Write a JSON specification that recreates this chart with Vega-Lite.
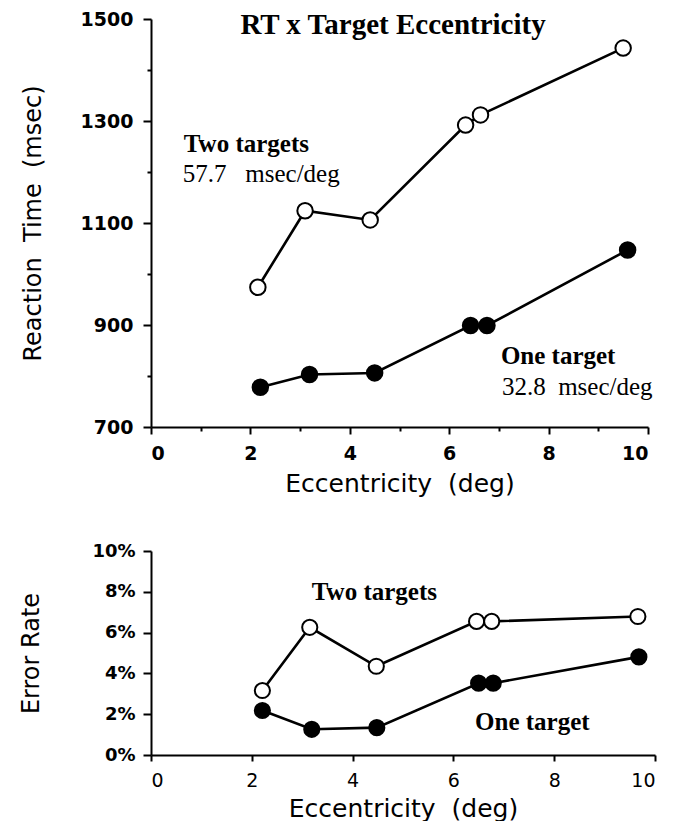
{
  "$schema": "https://vega.github.io/schema/vega-lite/v6.json",
  "background": "white",
  "padding": {"left": 19, "top": 10, "right": 10, "bottom": 0},
  "spacing": 46,
  "config": {
    "view": {"stroke": null},
    "axis": {
      "grid": false,
      "domainColor": "black",
      "domainWidth": 2,
      "tickColor": "black",
      "tickWidth": 2,
      "labelColor": "black",
      "labelFont": "DejaVu Sans",
      "labelFontWeight": "bold",
      "titleColor": "black",
      "titleFont": "DejaVu Sans",
      "titleFontWeight": "normal"
    }
  },
  "datasets": {
    "rt": [
      {"series": "Two targets", "ecc": 2.15, "value": 974},
      {"series": "Two targets", "ecc": 3.10, "value": 1124},
      {"series": "Two targets", "ecc": 4.41, "value": 1106},
      {"series": "Two targets", "ecc": 6.33, "value": 1292},
      {"series": "Two targets", "ecc": 6.63, "value": 1312},
      {"series": "Two targets", "ecc": 9.50, "value": 1443},
      {"series": "One target", "ecc": 2.20, "value": 778},
      {"series": "One target", "ecc": 3.19, "value": 803},
      {"series": "One target", "ecc": 4.50, "value": 806},
      {"series": "One target", "ecc": 6.43, "value": 899},
      {"series": "One target", "ecc": 6.76, "value": 899},
      {"series": "One target", "ecc": 9.59, "value": 1047}
    ],
    "err": [
      {"series": "Two targets", "ecc": 2.21, "value": 3.16},
      {"series": "Two targets", "ecc": 3.15, "value": 6.26},
      {"series": "Two targets", "ecc": 4.47, "value": 4.35},
      {"series": "Two targets", "ecc": 6.46, "value": 6.55},
      {"series": "Two targets", "ecc": 6.76, "value": 6.55},
      {"series": "Two targets", "ecc": 9.66, "value": 6.79},
      {"series": "One target", "ecc": 2.21, "value": 2.18},
      {"series": "One target", "ecc": 3.19, "value": 1.26},
      {"series": "One target", "ecc": 4.48, "value": 1.34},
      {"series": "One target", "ecc": 6.50, "value": 3.52},
      {"series": "One target", "ecc": 6.79, "value": 3.52},
      {"series": "One target", "ecc": 9.68, "value": 4.81}
    ],
    "rtTitle": [{"ecc": 4.87, "value": 1488, "text": "RT x Target Eccentricity"}],
    "rtNames": [
      {"ecc": 0.66, "value": 1255, "text": "Two targets"},
      {"ecc": 7.04, "value": 839, "text": "One target"}
    ],
    "rtSlopes": [
      {"ecc": 0.64, "value": 1196, "text": "57.7\u00a0\u00a0\u00a0msec/deg"},
      {"ecc": 7.06, "value": 778, "text": "32.8\u00a0\u00a0msec/deg"}
    ],
    "errNames": [
      {"ecc": 3.19, "value": 8.0, "text": "Two targets"},
      {"ecc": 6.43, "value": 1.6, "text": "One target"}
    ]
  },
  "vconcat": [
    {
      "width": 497,
      "height": 408,
      "encoding": {
        "x": {
          "field": "ecc", "type": "quantitative",
          "scale": {"domain": [0, 10], "nice": false},
          "title": "Eccentricity\u00a0\u00a0(deg)",
          "axis": {
            "values": [0, 1, 2, 3, 4, 5, 6, 7, 8, 9, 10],
            "labelExpr": "datum.value % 2 === 0 ? datum.label : ''",
            "tickSize": {"condition": {"test": "datum.value % 2 === 0", "value": 7}, "value": 4},
            "labelFontSize": 19,
            "labelPadding": 10,
            "titleFontSize": 25,
            "titlePadding": 8
          }
        },
        "y": {
          "field": "value", "type": "quantitative",
          "scale": {"domain": [700, 1500], "nice": false},
          "title": "Reaction\u00a0\u00a0Time\u00a0\u00a0(msec)",
          "axis": {
            "values": [700, 800, 900, 1000, 1100, 1200, 1300, 1400, 1500],
            "format": "d",
            "labelExpr": "datum.value % 200 === 100 ? datum.label : ''",
            "tickSize": {"condition": {"test": "datum.value % 200 === 100", "value": 8}, "value": 4},
            "labelFontSize": 19,
            "labelPadding": 10,
            "titleFontSize": 24,
            "titlePadding": 35
          }
        }
      },
      "layer": [
        {
          "data": {"name": "rt"},
          "mark": {"type": "line", "color": "black", "strokeWidth": 2.6},
          "encoding": {"detail": {"field": "series"}}
        },
        {
          "data": {"name": "rt"},
          "mark": {"type": "circle", "size": 240, "stroke": "black", "strokeWidth": 2, "opacity": 1},
          "encoding": {
            "fill": {
              "field": "series", "type": "nominal",
              "scale": {"domain": ["One target", "Two targets"], "range": ["black", "white"]},
              "legend": null
            }
          }
        },
        {
          "data": {"name": "rtTitle"},
          "mark": {"type": "text", "font": "Liberation Serif", "fontSize": 29, "fontWeight": "bold", "align": "center", "baseline": "middle", "color": "black"},
          "encoding": {"text": {"field": "text"}}
        },
        {
          "data": {"name": "rtNames"},
          "mark": {"type": "text", "font": "Liberation Serif", "fontSize": 25, "fontWeight": "bold", "align": "left", "baseline": "middle", "color": "black"},
          "encoding": {"text": {"field": "text"}}
        },
        {
          "data": {"name": "rtSlopes"},
          "mark": {"type": "text", "font": "Liberation Serif", "fontSize": 25, "align": "left", "baseline": "middle", "color": "black"},
          "encoding": {"text": {"field": "text"}}
        }
      ]
    },
    {
      "width": 504,
      "height": 204,
      "encoding": {
        "x": {
          "field": "ecc", "type": "quantitative",
          "scale": {"domain": [0, 10], "nice": false},
          "title": "Eccentricity\u00a0\u00a0(deg)",
          "axis": {
            "values": [0, 2, 4, 6, 8, 10],
            "tickSize": 6,
            "labelFontSize": 19,
            "labelFontWeight": "normal",
            "labelPadding": 10,
            "titleFontSize": 25,
            "titlePadding": 6
          }
        },
        "y": {
          "field": "value", "type": "quantitative",
          "scale": {"domain": [0, 10], "nice": false},
          "title": "Error Rate",
          "axis": {
            "values": [0, 2, 4, 6, 8, 10],
            "labelExpr": "datum.label + '%'",
            "tickSize": 8,
            "labelFontSize": 18,
            "labelPadding": 8,
            "titleFontSize": 24,
            "titlePadding": 48
          }
        }
      },
      "layer": [
        {
          "data": {"name": "err"},
          "mark": {"type": "line", "color": "black", "strokeWidth": 2.6},
          "encoding": {"detail": {"field": "series"}}
        },
        {
          "data": {"name": "err"},
          "mark": {"type": "circle", "size": 230, "stroke": "black", "strokeWidth": 2, "opacity": 1},
          "encoding": {
            "fill": {
              "field": "series", "type": "nominal",
              "scale": {"domain": ["One target", "Two targets"], "range": ["black", "white"]},
              "legend": null
            }
          }
        },
        {
          "data": {"name": "errNames"},
          "mark": {"type": "text", "font": "Liberation Serif", "fontSize": 25, "fontWeight": "bold", "align": "left", "baseline": "middle", "color": "black"},
          "encoding": {"text": {"field": "text"}}
        }
      ]
    }
  ]
}
